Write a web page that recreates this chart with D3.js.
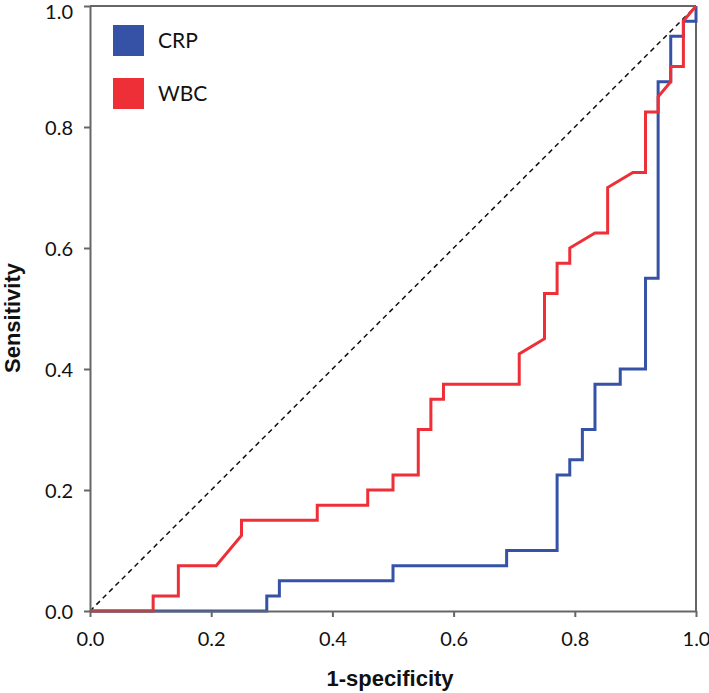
<!DOCTYPE html>
<html>
<head>
<meta charset="utf-8">
<script src="https://cdn.jsdelivr.net/npm/d3@7"></script>
<style>
  html, body { margin: 0; padding: 0; background: #fff; }
  svg { display: block; }
</style>
</head>
<body>
<div id="chart"></div>
<script>
// ---- data ----
const seriesNames = ["CRP", "WBC"];
const seriesColors = ["#3652a6", "#ee2f37"];
const crpFpr = [0, 0.2917, 0.2917, 0.3125, 0.3125, 0.5, 0.5, 0.6875, 0.6875, 0.7708, 0.7708, 0.7917, 0.7917, 0.8125, 0.8125, 0.8333, 0.8333, 0.875, 0.875, 0.9167, 0.9167, 0.9375, 0.9375, 0.9583, 0.9583, 0.9792, 0.9792, 1, 1];
const crpTpr = [0, 0, 0.025, 0.025, 0.05, 0.05, 0.075, 0.075, 0.1, 0.1, 0.225, 0.225, 0.25, 0.25, 0.3, 0.3, 0.375, 0.375, 0.4, 0.4, 0.55, 0.55, 0.875, 0.875, 0.95, 0.95, 0.975, 0.975, 1];
const wbcFpr = [0, 0.1042, 0.1042, 0.1458, 0.1458, 0.2083, 0.25, 0.25, 0.375, 0.375, 0.4583, 0.4583, 0.5, 0.5, 0.5417, 0.5417, 0.5625, 0.5625, 0.5833, 0.5833, 0.7083, 0.7083, 0.75, 0.75, 0.7708, 0.7708, 0.7917, 0.7917, 0.8333, 0.8542, 0.8542, 0.8958, 0.9167, 0.9167, 0.9375, 0.9375, 0.9583, 0.9583, 0.9792, 0.9792, 1];
const wbcTpr = [0, 0, 0.025, 0.025, 0.075, 0.075, 0.125, 0.15, 0.15, 0.175, 0.175, 0.2, 0.2, 0.225, 0.225, 0.3, 0.3, 0.35, 0.35, 0.375, 0.375, 0.425, 0.45, 0.525, 0.525, 0.575, 0.575, 0.6, 0.625, 0.625, 0.7, 0.725, 0.725, 0.825, 0.825, 0.85, 0.875, 0.9, 0.9, 0.975, 1];
const xTicks = [0, 0.2, 0.4, 0.6, 0.8, 1.0];
const yTicks = [0, 0.2, 0.4, 0.6, 0.8, 1.0];
const xTitle = "1-specificity";
const yTitle = "Sensitivity";

// ---- layout ----
const W = 709, H = 693;
const margin = { left: 90, right: 13, top: 6, bottom: 82 };
const iw = W - margin.left - margin.right;
const ih = H - margin.top - margin.bottom;
const axisColor = "#666";
const tickFont = "Lato, 'Open Sans', sans-serif";

const svg = d3.select("#chart").append("svg").attr("width", W).attr("height", H);
const g = svg.append("g").attr("transform", `translate(${margin.left},${margin.top})`);

const x = d3.scaleLinear().domain([0, 1]).range([0, iw]);
const y = d3.scaleLinear().domain([0, 1]).range([ih, 0]);

// frame top/right
g.append("line").attr("x1", 0).attr("x2", iw).attr("y1", 0).attr("y2", 0)
  .attr("stroke", axisColor).attr("stroke-width", 2);
g.append("line").attr("x1", iw).attr("x2", iw).attr("y1", 0).attr("y2", ih)
  .attr("stroke", axisColor).attr("stroke-width", 2);

// diagonal reference
g.append("line")
  .attr("x1", x(0)).attr("y1", y(0)).attr("x2", x(1)).attr("y2", y(1))
  .attr("stroke", "#111").attr("stroke-width", 1.5).attr("stroke-dasharray", "5,4");

// curves
const line = d3.line().x(d => x(d[0])).y(d => y(d[1]));
const crpPts = crpFpr.map((v, i) => [v, crpTpr[i]]);
const wbcPts = wbcFpr.map((v, i) => [v, wbcTpr[i]]);
g.append("path").datum(crpPts).attr("d", line)
  .attr("fill", "none").attr("stroke", seriesColors[0]).attr("stroke-width", 3)
  .attr("stroke-linejoin", "miter");
g.append("path").datum(wbcPts).attr("d", line)
  .attr("fill", "none").attr("stroke", seriesColors[1]).attr("stroke-width", 3)
  .attr("stroke-linejoin", "miter");

// axes
const xAxis = g.append("g").attr("transform", `translate(0,${ih})`)
  .call(d3.axisBottom(x).tickValues(xTicks).tickFormat(d3.format(".1f")).tickSize(6).tickSizeOuter(0));
const yAxis = g.append("g")
  .call(d3.axisLeft(y).tickValues(yTicks).tickFormat(d3.format(".1f")).tickSize(6).tickSizeOuter(0));
[xAxis, yAxis].forEach(a => {
  a.select(".domain").attr("stroke", axisColor).attr("stroke-width", 2);
  a.selectAll(".tick line").attr("stroke", axisColor).attr("stroke-width", 2);
  a.selectAll(".tick text").attr("fill", "#111").style("font-family", tickFont).style("font-size", "20px");
});
xAxis.selectAll(".tick text").attr("dy", 0).attr("y", 35);
yAxis.selectAll(".tick text").attr("x", -17).attr("dy", d => d === 1 ? "0.62em" : "0.38em");

// axis titles
svg.append("text").attr("x", margin.left + iw / 2 - 3).attr("y", 686)
  .attr("text-anchor", "middle").style("font-family", "'Liberation Sans', Arial, sans-serif")
  .style("font-weight", "bold").style("font-size", "22px").attr("fill", "#111").text(xTitle);
svg.append("text").attr("transform", `translate(20,${318}) rotate(-90)`)
  .attr("text-anchor", "middle").style("font-family", "'Liberation Sans', Arial, sans-serif")
  .style("font-weight", "bold").style("font-size", "22px").attr("fill", "#111").text(yTitle);

// legend
const legend = svg.append("g");
seriesNames.forEach((name, i) => {
  const ly = 25 + i * 53;
  legend.append("rect").attr("x", 113).attr("y", ly).attr("width", 31).attr("height", 31)
    .attr("fill", seriesColors[i]);
  legend.append("text").attr("x", 158).attr("y", ly + 23)
    .style("font-family", tickFont).style("font-size", "21px").attr("fill", "#111").text(name);
});
</script>
</body>
</html>
